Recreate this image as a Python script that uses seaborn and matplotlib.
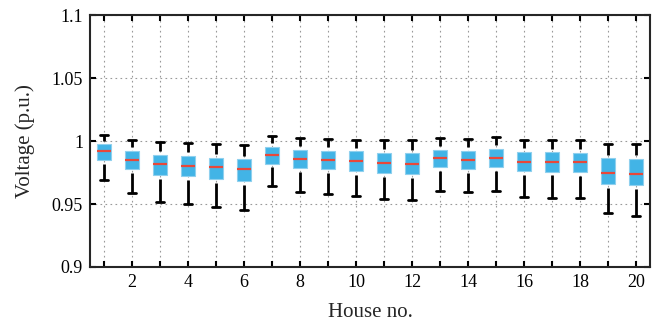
import numpy as np
import pandas as pd
import matplotlib
matplotlib.use("Agg")
import matplotlib.pyplot as plt
import seaborn as sns

houses = list(range(1, 21))
v_min = [0.9694, 0.9588, 0.9518, 0.9502, 0.9473, 0.9452, 0.9646, 0.9596, 0.9580, 0.9561,
         0.9537, 0.9532, 0.9606, 0.9593, 0.9606, 0.9556, 0.9550, 0.9548, 0.9428, 0.9404]
q1 = [0.9851, 0.9776, 0.9732, 0.9724, 0.9700, 0.9680, 0.9820, 0.9784, 0.9776, 0.9763,
      0.9744, 0.9740, 0.9792, 0.9776, 0.9792, 0.9760, 0.9758, 0.9752, 0.9660, 0.9652]
med = [0.9918, 0.9851, 0.9814, 0.9804, 0.9792, 0.9776, 0.9888, 0.9859, 0.9851, 0.9843,
       0.9824, 0.9820, 0.9864, 0.9851, 0.9862, 0.9835, 0.9835, 0.9830, 0.9750, 0.9736]
q3 = [0.9974, 0.9920, 0.9891, 0.9883, 0.9864, 0.9854, 0.9952, 0.9931, 0.9920, 0.9918,
      0.9904, 0.9902, 0.9931, 0.9923, 0.9936, 0.9912, 0.9910, 0.9907, 0.9862, 0.9856]
v_max = [1.0051, 1.0011, 0.9990, 0.9984, 0.9974, 0.9968, 1.0038, 1.0022, 1.0016, 1.0011,
         1.0006, 1.0006, 1.0022, 1.0016, 1.0030, 1.0011, 1.0011, 1.0006, 0.9979, 0.9974]

rows = []
for i, h in enumerate(houses):
    for v in (v_min[i], q1[i], med[i], q3[i], v_max[i]):
        rows.append({"house": h, "voltage": v})
df = pd.DataFrame(rows)

sns.set_style("ticks")
plt.rcParams["font.family"] = ["Liberation Serif", "DejaVu Serif"]

fig = plt.figure(figsize=(6.59, 3.27), dpi=100)
ax = fig.add_axes([0.1366, 0.1835, 0.8497, 0.7705])

sns.boxplot(data=df, x="house", y="voltage", native_scale=True, whis=(0, 100),
            width=0.53, color="#42b4e6", linecolor="black", linewidth=1.5,
            fliersize=0, ax=ax,
            boxprops=dict(facecolor="#42b4e6", edgecolor="#8fd0ee", linewidth=0.8),
            medianprops=dict(color="#e8483a", linewidth=1.6),
            whiskerprops=dict(color="black", linewidth=2.0),
            capprops=dict(color="black", linewidth=2.0),
            capwidths=0.3)

# small gap between box and whiskers
gap = 0.003
for ln in ax.lines:
    x, y = ln.get_xdata(), ln.get_ydata()
    if len(x) == 2 and x[0] == x[1] and y[0] != y[1]:
        y = np.array(y, dtype=float)
        y[0] = y[0] + gap * np.sign(y[1] - y[0])
        ln.set_ydata(y)

ax.set_xlim(0.5, 20.5)
ax.set_ylim(0.9, 1.1)
ax.set_xticks(houses)
ax.set_xticklabels([str(h) if h % 2 == 0 else "" for h in houses])
ax.set_yticks([0.9, 0.95, 1.0, 1.05, 1.1])
ax.set_yticklabels(["0.9", "0.95", "1", "1.05", "1.1"])
ax.grid(True, linestyle=(0, (1.5, 3)), color="#999999", linewidth=0.8)
ax.set_axisbelow(True)
ax.tick_params(direction="in", length=4, width=1.5, top=True, right=True,
               labelsize=13, colors="black", pad=5)
for s in ax.spines.values():
    s.set_linewidth(1.5)
    s.set_visible(True)
ax.set_xlabel("House no.", fontsize=15, labelpad=9)
ax.set_ylabel("Voltage (p.u.)", fontsize=15, labelpad=12)

fig.savefig("out.png", dpi=100)
